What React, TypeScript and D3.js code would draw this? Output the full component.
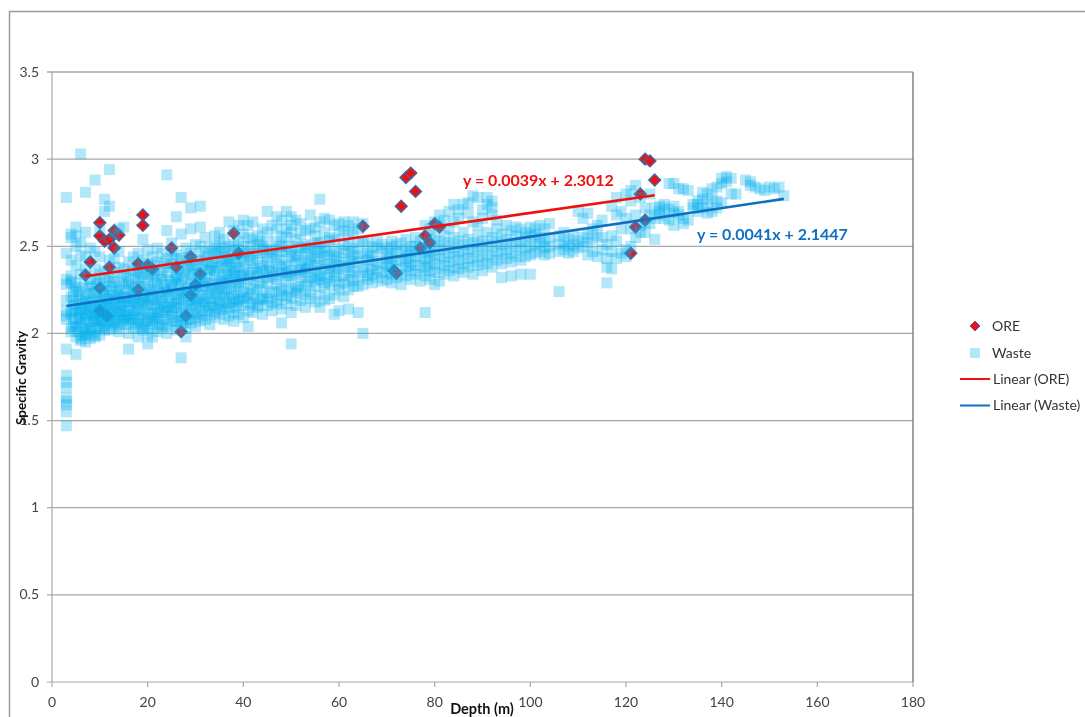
import React from "react";
import * as d3 from "d3";

const xTicks = [0, 20, 40, 60, 80, 100, 120, 140, 160, 180];
const yTicks = [0, 0.5, 1, 1.5, 2, 2.5, 3, 3.5];

const oreDepth = [7, 8, 10, 10, 11, 12, 13, 14, 13, 10, 10, 12, 11.5, 19, 19, 18, 18, 20, 21, 25, 26, 29, 31, 29, 30, 28, 27, 38, 39, 65, 71.5, 72, 73, 74, 75, 76, 77, 78, 79, 80, 81, 121, 122, 123, 124, 124, 125, 126];
const oreSG = [2.335, 2.41, 2.635, 2.56, 2.53, 2.54, 2.59, 2.565, 2.49, 2.26, 2.13, 2.38, 2.1, 2.68, 2.62, 2.4, 2.25, 2.39, 2.37, 2.49, 2.38, 2.44, 2.34, 2.22, 2.28, 2.1, 2.01, 2.575, 2.46, 2.615, 2.36, 2.345, 2.73, 2.895, 2.92, 2.815, 2.49, 2.56, 2.52, 2.63, 2.61, 2.46, 2.61, 2.8, 2.65, 3.0, 2.99, 2.88];

const wasteByDepth: [number, number[]][] = [
  [3, [1.47, 1.55, 1.59, 1.61, 1.63, 1.69, 1.72, 1.76, 1.91, 2.08, 2.1, 2.13, 2.19, 2.28, 2.31, 2.46, 2.78]],
  [4, [2.01, 2.03, 2.11, 2.12, 2.21, 2.29, 2.3, 2.33, 2.42, 2.55, 2.57]],
  [5, [1.88, 1.98, 2.04, 2.05, 2.13, 2.17, 2.26, 2.27, 2.39, 2.5, 2.56, 2.61]],
  [6, [1.96, 1.97, 2.06, 2.09, 2.14, 2.14, 2.22, 2.34, 2.45, 2.52, 3.03]],
  [7, [1.95, 1.99, 2.02, 2.08, 2.1, 2.16, 2.19, 2.23, 2.37, 2.44, 2.81, 2.58]],
  [8, [1.97, 2.03, 2.03, 2.12, 2.14, 2.2, 2.27, 2.31, 2.49]],
  [9, [1.98, 1.99, 2.07, 2.09, 2.11, 2.18, 2.24, 2.31, 2.37, 2.88, 2.47]],
  [10, [1.99, 2.04, 2.07, 2.13, 2.16, 2.19, 2.29, 2.34, 2.44, 2.6]],
  [11, [2.02, 2.03, 2.09, 2.15, 2.22, 2.25, 2.3, 2.36, 2.7, 2.77]],
  [12, [2.02, 2.08, 2.1, 2.14, 2.16, 2.22, 2.32, 2.73, 2.94, 2.42]],
  [13, [2.06, 2.07, 2.13, 2.19, 2.2, 2.29, 2.35, 2.43, 2.57]],
  [14, [2.01, 2.05, 2.11, 2.12, 2.17, 2.24, 2.26, 2.38, 2.47, 2.6]],
  [15, [2.08, 2.09, 2.15, 2.2, 2.21, 2.3, 2.37, 2.61]],
  [16, [1.91, 2.0, 2.06, 2.1, 2.13, 2.18, 2.28, 2.29, 2.41]],
  [17, [2.03, 2.09, 2.11, 2.19, 2.2, 2.24, 2.36, 2.44]],
  [18, [1.98, 2.05, 2.08, 2.14, 2.17, 2.27, 2.32, 2.38, 2.46]],
  [19, [2.02, 2.03, 2.1, 2.18, 2.19, 2.23, 2.34, 2.42, 2.54]],
  [20, [1.94, 2.0, 2.07, 2.09, 2.16, 2.17, 2.25, 2.31, 2.4, 2.48]],
  [21, [1.98, 2.05, 2.07, 2.11, 2.2, 2.22, 2.3, 2.36, 2.44]],
  [22, [2.01, 2.08, 2.1, 2.14, 2.19, 2.27, 2.29, 2.41, 2.49]],
  [23, [2.03, 2.04, 2.12, 2.18, 2.21, 2.31, 2.33, 2.46]],
  [24, [2.0, 2.06, 2.13, 2.15, 2.24, 2.25, 2.35, 2.43, 2.59, 2.91]],
  [25, [2.04, 2.11, 2.13, 2.18, 2.26, 2.28, 2.4, 2.47, 2.52]],
  [26, [2.02, 2.07, 2.15, 2.17, 2.22, 2.32, 2.33, 2.45, 2.67]],
  [27, [1.86, 2.05, 2.1, 2.12, 2.2, 2.27, 2.31, 2.43, 2.57, 2.78]],
  [28, [1.98, 2.03, 2.08, 2.14, 2.23, 2.24, 2.35, 2.42, 2.49]],
  [29, [2.06, 2.08, 2.16, 2.21, 2.29, 2.31, 2.41, 2.46, 2.6, 2.72]],
  [30, [2.04, 2.09, 2.15, 2.18, 2.26, 2.28, 2.39, 2.51]],
  [31, [2.07, 2.13, 2.17, 2.22, 2.32, 2.34, 2.44, 2.5, 2.61, 2.73]],
  [32, [2.08, 2.16, 2.18, 2.27, 2.29, 2.41, 2.47, 2.55]],
  [33, [2.05, 2.11, 2.15, 2.2, 2.26, 2.36, 2.37, 2.49]],
  [34, [2.09, 2.12, 2.19, 2.25, 2.33, 2.36, 2.43, 2.5, 2.56]],
  [35, [2.11, 2.17, 2.18, 2.26, 2.3, 2.38, 2.46, 2.52, 2.58]],
  [36, [2.08, 2.14, 2.21, 2.23, 2.29, 2.34, 2.44, 2.47, 2.54]],
  [37, [2.1, 2.15, 2.2, 2.29, 2.31, 2.39, 2.43, 2.5, 2.64]],
  [38, [2.07, 2.12, 2.18, 2.22, 2.33, 2.35, 2.45, 2.51, 2.59]],
  [39, [2.11, 2.18, 2.19, 2.27, 2.3, 2.38, 2.48, 2.53, 2.62]],
  [40, [2.09, 2.16, 2.21, 2.24, 2.34, 2.36, 2.42, 2.5, 2.57, 2.65]],
  [41, [2.04, 2.13, 2.2, 2.23, 2.31, 2.35, 2.44, 2.47, 2.55, 2.62]],
  [42, [2.12, 2.18, 2.22, 2.28, 2.37, 2.4, 2.46, 2.54, 2.64]],
  [43, [2.15, 2.16, 2.25, 2.33, 2.35, 2.43, 2.51, 2.56]],
  [44, [2.11, 2.19, 2.21, 2.27, 2.36, 2.39, 2.48, 2.5, 2.6]],
  [45, [2.16, 2.2, 2.29, 2.32, 2.41, 2.44, 2.52, 2.58, 2.7]],
  [46, [2.13, 2.18, 2.24, 2.33, 2.36, 2.46, 2.48, 2.62]],
  [47, [2.17, 2.19, 2.28, 2.31, 2.4, 2.44, 2.53, 2.6, 2.67]],
  [48, [2.06, 2.14, 2.22, 2.25, 2.35, 2.38, 2.47, 2.5, 2.56, 2.65]],
  [49, [2.17, 2.21, 2.3, 2.35, 2.39, 2.47, 2.55, 2.6, 2.7]],
  [50, [1.94, 2.12, 2.2, 2.24, 2.33, 2.36, 2.44, 2.48, 2.58, 2.62, 2.67]],
  [51, [2.16, 2.23, 2.26, 2.34, 2.42, 2.45, 2.54, 2.65]],
  [52, [2.19, 2.25, 2.32, 2.37, 2.4, 2.49, 2.57, 2.63]],
  [53, [2.15, 2.22, 2.28, 2.35, 2.38, 2.46, 2.51, 2.59]],
  [54, [2.2, 2.24, 2.32, 2.4, 2.44, 2.5, 2.6, 2.68]],
  [55, [2.18, 2.27, 2.3, 2.36, 2.43, 2.48, 2.56, 2.61]],
  [56, [2.15, 2.22, 2.31, 2.33, 2.41, 2.47, 2.52, 2.64, 2.77]],
  [57, [2.19, 2.26, 2.29, 2.37, 2.44, 2.49, 2.58, 2.66]],
  [58, [2.2, 2.28, 2.34, 2.38, 2.45, 2.53, 2.55, 2.65]],
  [59, [2.11, 2.22, 2.3, 2.35, 2.42, 2.47, 2.54, 2.62]],
  [60, [2.13, 2.25, 2.28, 2.37, 2.41, 2.48, 2.57, 2.63]],
  [61, [2.21, 2.29, 2.33, 2.39, 2.46, 2.51, 2.59, 2.64]],
  [62, [2.14, 2.25, 2.31, 2.38, 2.43, 2.5, 2.56, 2.62]],
  [63, [2.27, 2.3, 2.36, 2.44, 2.49, 2.58, 2.64]],
  [64, [2.12, 2.27, 2.33, 2.41, 2.45, 2.52, 2.6]],
  [65, [2.0, 2.28, 2.35, 2.38, 2.46, 2.53, 2.63]],
  [66, [2.31, 2.33, 2.42, 2.46, 2.52]],
  [67, [2.29, 2.34, 2.39, 2.45, 2.5]],
  [68, [2.32, 2.36, 2.41, 2.49, 2.53]],
  [69, [2.3, 2.35, 2.4, 2.47, 2.51]],
  [70, [2.31, 2.38, 2.43, 2.49]],
  [71, [2.29, 2.34, 2.39, 2.44, 2.5, 2.53]],
  [72, [2.32, 2.37, 2.42, 2.47, 2.51]],
  [73, [2.28, 2.34, 2.41, 2.46, 2.52]],
  [74, [2.33, 2.38, 2.43, 2.48, 2.54]],
  [75, [2.31, 2.36, 2.41, 2.47, 2.5]],
  [76, [2.34, 2.39, 2.44, 2.5, 2.55]],
  [77, [2.3, 2.36, 2.42, 2.48, 2.53]],
  [78, [2.12, 2.33, 2.38, 2.43, 2.49, 2.62]],
  [79, [2.31, 2.36, 2.42, 2.47, 2.54, 2.6]],
  [80, [2.28, 2.35, 2.4, 2.45, 2.5, 2.56, 2.64]],
  [81, [2.3, 2.37, 2.43, 2.48, 2.53, 2.62, 2.68]],
  [82, [2.34, 2.39, 2.44, 2.5, 2.56, 2.65]],
  [83, [2.36, 2.41, 2.46, 2.52, 2.6, 2.7]],
  [84, [2.33, 2.38, 2.44, 2.49, 2.55, 2.64, 2.74]],
  [85, [2.37, 2.42, 2.47, 2.53, 2.66, 2.71]],
  [86, [2.35, 2.4, 2.46, 2.51, 2.58, 2.74]],
  [87, [2.38, 2.43, 2.48, 2.54, 2.69, 2.75]],
  [88, [2.34, 2.41, 2.47, 2.52, 2.64, 2.79]],
  [89, [2.39, 2.44, 2.5, 2.56, 2.62, 2.78]],
  [90, [2.36, 2.42, 2.48, 2.53, 2.66, 2.71]],
  [91, [2.4, 2.45, 2.51, 2.58, 2.74, 2.78]],
  [92, [2.38, 2.44, 2.5, 2.55, 2.68, 2.72, 2.76]],
  [93, [2.42, 2.47, 2.53, 2.6, 2.65]],
  [94, [2.32, 2.4, 2.46, 2.51, 2.57]],
  [95, [2.43, 2.48, 2.54, 2.62]],
  [96, [2.33, 2.41, 2.46, 2.52, 2.59]],
  [97, [2.44, 2.5, 2.56, 2.61]],
  [98, [2.34, 2.42, 2.48, 2.53, 2.6]],
  [99, [2.44, 2.49, 2.55, 2.58]],
  [100, [2.34, 2.45, 2.5, 2.56, 2.61]],
  [101, [2.46, 2.51, 2.57, 2.6]],
  [102, [2.47, 2.52, 2.55, 2.62]],
  [103, [2.45, 2.49, 2.53, 2.6]],
  [104, [2.46, 2.5, 2.55, 2.63]],
  [106, [2.24, 2.47, 2.51, 2.56]],
  [107, [2.48, 2.52, 2.58]],
  [108, [2.46, 2.5, 2.54]],
  [109, [2.47, 2.51, 2.56]],
  [110, [2.49, 2.53, 2.7]],
  [111, [2.5, 2.55, 2.66]],
  [112, [2.45, 2.52, 2.57, 2.69]],
  [113, [2.47, 2.54, 2.6]],
  [114, [2.44, 2.56, 2.62]],
  [115, [2.48, 2.55, 2.65]],
  [116, [2.29, 2.38, 2.43, 2.51]],
  [117, [2.37, 2.47, 2.56, 2.73]],
  [118, [2.43, 2.53, 2.68, 2.78]],
  [119, [2.46, 2.6, 2.7]],
  [120, [2.44, 2.48, 2.66, 2.8]],
  [121, [2.5, 2.6, 2.76, 2.82]],
  [122, [2.55, 2.68, 2.85]],
  [123, [2.58, 2.62, 2.78]],
  [124, [2.58, 2.64, 2.72]],
  [125, [2.63, 2.68, 2.8]],
  [126, [2.54, 2.66, 2.72]],
  [127, [2.68, 2.73, 2.7]],
  [128, [2.66, 2.72, 2.74]],
  [129, [2.65, 2.71, 2.86]],
  [130, [2.62, 2.69, 2.73, 2.86]],
  [131, [2.68, 2.7, 2.83]],
  [132, [2.63, 2.66, 2.83]],
  [133, [2.65, 2.82]],
  [134, [2.72, 2.74]],
  [135, [2.74, 2.76, 2.7]],
  [136, [2.77, 2.81, 2.72]],
  [137, [2.69, 2.8, 2.74]],
  [138, [2.7, 2.83, 2.77]],
  [139, [2.72, 2.84, 2.76]],
  [140, [2.75, 2.89, 2.86]],
  [141, [2.9, 2.87]],
  [142, [2.89, 2.8]],
  [143, [2.8]],
  [145, [2.88]],
  [146, [2.87, 2.85]],
  [147, [2.84]],
  [148, [2.83]],
  [149, [2.82]],
  [150, [2.84]],
  [151, [2.83]],
  [152, [2.84]],
  [153, [2.79]],
];

// Second pass over the densest part of the cloud, read between the whole-metre columns.
const wasteBetween: [number, number[]][] = [
  [4.5, [2.04, 2.09, 2.16, 2.19, 2.24]],
  [5.5, [2.01, 2.08, 2.12, 2.2, 2.24]],
  [6.5, [1.99, 2.03, 2.11, 2.17, 2.29]],
  [7.5, [2.0, 2.06, 2.13, 2.18, 2.26]],
  [8.5, [2.01, 2.07, 2.1, 2.16, 2.23]],
  [9.5, [2.03, 2.08, 2.14, 2.21, 2.28]],
  [10.5, [2.05, 2.1, 2.12, 2.18, 2.24]],
  [11.5, [2.06, 2.11, 2.17, 2.2, 2.27]],
  [12.5, [2.04, 2.12, 2.18, 2.24, 2.3]],
  [13.5, [2.03, 2.09, 2.15, 2.22, 2.27]],
  [14.5, [2.07, 2.13, 2.16, 2.21, 2.33]],
  [15.5, [2.05, 2.11, 2.18, 2.25, 2.32]],
  [16.5, [2.08, 2.15, 2.21, 2.26, 2.35]],
  [17.5, [2.06, 2.13, 2.17, 2.23, 2.31]],
  [18.5, [2.04, 2.11, 2.2, 2.29, 2.35]],
  [19.5, [2.06, 2.13, 2.21, 2.27, 2.37]],
  [20.5, [2.03, 2.12, 2.19, 2.24, 2.34]],
  [21.5, [2.09, 2.16, 2.25, 2.33, 2.39]],
  [22.5, [2.05, 2.12, 2.17, 2.23, 2.36]],
  [23.5, [2.08, 2.15, 2.24, 2.28, 2.4]],
  [24.5, [2.1, 2.17, 2.21, 2.3, 2.38]],
  [25.5, [2.07, 2.15, 2.23, 2.31, 2.43]],
  [26.5, [2.09, 2.19, 2.25, 2.29, 2.37]],
  [27.5, [2.06, 2.16, 2.22, 2.33, 2.39]],
  [28.5, [2.11, 2.18, 2.26, 2.37, 2.44]],
  [29.5, [2.12, 2.19, 2.24, 2.34, 2.38]],
  [30.5, [2.11, 2.2, 2.27, 2.35, 2.42]],
  [31.5, [2.1, 2.19, 2.25, 2.3, 2.39]],
  [32.5, [2.13, 2.22, 2.32, 2.38, 2.44]],
  [33.5, [2.16, 2.23, 2.29, 2.4, 2.46]],
  [34.5, [2.15, 2.22, 2.28, 2.39, 2.47]],
  [35.5, [2.14, 2.24, 2.32, 2.41, 2.49]],
  [36.5, [2.17, 2.26, 2.33, 2.38, 2.42]],
  [37.5, [2.18, 2.25, 2.36, 2.41, 2.48]],
  [38.5, [2.15, 2.24, 2.31, 2.37, 2.43]],
  [39.5, [2.2, 2.29, 2.33, 2.41, 2.46]],
  [41.5, [2.17, 2.26, 2.33, 2.42, 2.5]],
  [43.5, [2.2, 2.29, 2.37, 2.46, 2.53]],
  [45.5, [2.23, 2.35, 2.38, 2.47]],
  [47.5, [2.24, 2.34, 2.42, 2.5]],
  [49.5, [2.26, 2.33, 2.41, 2.5]],
  [51.5, [2.27, 2.36, 2.44, 2.5]],
  [53.5, [2.3, 2.37, 2.42, 2.49]],
  [55.5, [2.33, 2.39, 2.46, 2.52]],
  [57.5, [2.32, 2.4, 2.47]],
  [59.5, [2.33, 2.39, 2.44]],
  [62.5, [2.35, 2.41, 2.47]],
  [66.5, [2.37, 2.44]],
  [70.5, [2.35, 2.41, 2.46]],
  [74.5, [2.39, 2.45]],
  [78.5, [2.39, 2.46]],
];

const oreFit = { slope: 0.0039, intercept: 2.3012, from: 7, to: 126 };
const wasteFit = { slope: 0.0041, intercept: 2.1447, from: 3, to: 153 };
const oreEquation = "y = 0.0039x + 2.3012";
const wasteEquation = "y = 0.0041x + 2.1447";
const legendLabels = ["ORE", "Waste", "Linear (ORE)", "Linear (Waste)"];

const FONT = "Lato, 'Noto Sans', sans-serif";
const RED = "#f01010";
const BLUE = "#0f6fc0";

export default function App() {
  const x = d3.scaleLinear().domain([0, 180]).range([52, 913]);
  const y = d3.scaleLinear().domain([0, 3.5]).range([682, 72]);
  const line = d3.line<number>().x((d) => x(d));
  const fitPath = (f: typeof oreFit) =>
    line.y((d) => y(f.slope * d + f.intercept))([f.from, f.to]) as string;
  const waste = [...wasteByDepth, ...wasteBetween].flatMap(([d, vals]) => vals.map((v) => [d, v]));
  const diamond = d3.symbol().type(d3.symbolDiamond2).size(88)() as string;
  const legendDiamond = d3.symbol().type(d3.symbolDiamond2).size(62)() as string;
  const squareSize = 11;

  return (
    <svg width={1085} height={717} style={{ position: "absolute", left: 0, top: 0, background: "#fff", filter: "blur(0.45px)" }} fontFamily={FONT}>
      <path d="M9.5 717V11.5H1085" fill="none" stroke="#9a9a9a" strokeWidth={1.5} />
      {yTicks.map((t) => (
        <g key={t}>
          <line x1={47} x2={913} y1={y(t)} y2={y(t)} stroke={t === 3.5 ? "#7f7f7f" : "#a8a8a8"} strokeWidth={1.2} />
          <text x={39} y={y(t)} dy="0.33em" textAnchor="end" fontSize={14} fill="#444">{t}</text>
        </g>
      ))}
      <line x1={52} x2={52} y1={72} y2={682} stroke="#a8a8a8" strokeWidth={1.2} />
      <line x1={913} x2={913} y1={72} y2={682} stroke="#666" strokeWidth={1.2} />
      {xTicks.map((t) => (
        <g key={t}>
          <line x1={x(t)} x2={x(t)} y1={682} y2={687} stroke="#a8a8a8" strokeWidth={1.2} />
          <text x={x(t)} y={702} dy="0.33em" textAnchor="middle" fontSize={14} fill="#444">{t}</text>
        </g>
      ))}
      {oreDepth.map((d, i) => (
        <path key={i} d={diamond} transform={`translate(${x(d)},${y(oreSG[i])})`} fill={RED} stroke="#44659f" strokeWidth={1.5} />
      ))}
      {waste.map(([d, v], i) => (
        <rect key={i} x={x(d) - squareSize / 2} y={y(v) - squareSize / 2} width={squareSize} height={squareSize} fill="#00aeef" fillOpacity={0.3} />
      ))}
      <path d={fitPath(oreFit)} fill="none" stroke={RED} strokeWidth={2.6} />
      <path d={fitPath(wasteFit)} fill="none" stroke={BLUE} strokeWidth={2.6} />
      <text x={463} y={186} fontSize={16} fontWeight={700} fill={RED}>{oreEquation}</text>
      <text x={697} y={240} fontSize={16} fontWeight={700} fill={BLUE}>{wasteEquation}</text>
      <text transform="translate(26,378) rotate(-90)" textAnchor="middle" fontSize={13.5} fontWeight={700} fill="#111">Specific Gravity</text>
      <text x={482} y={714} textAnchor="middle" fontSize={14.5} fontWeight={700} fill="#111">Depth (m)</text>
      <path d={legendDiamond} transform="translate(975,326)" fill={RED} stroke="#44659f" strokeWidth={1} />
      <rect x={970} y={348} width={10} height={10} fill="#00aeef" fillOpacity={0.3} />
      <line x1={960} x2={990} y1={379} y2={379} stroke={RED} strokeWidth={2} />
      <line x1={960} x2={990} y1={405.5} y2={405.5} stroke={BLUE} strokeWidth={2} />
      {legendLabels.map((l, i) => (
        <text key={l} x={i < 2 ? 992 : 993} y={[326, 353, 379, 405.5][i]} dy="0.33em" fontSize={14} fill="#333">{l}</text>
      ))}
    </svg>
  );
}
